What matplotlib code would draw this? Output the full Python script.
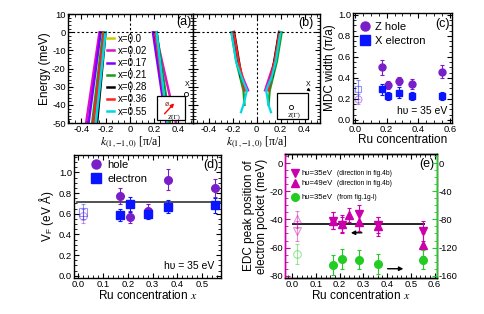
import numpy as np
import matplotlib
matplotlib.use("Agg")
import matplotlib.pyplot as plt
from matplotlib.patches import Rectangle
from matplotlib.ticker import MultipleLocator, FuncFormatter

plt.rcParams["font.family"] = ["Liberation Sans", "DejaVu Sans"]
plt.rcParams["mathtext.fontset"] = "stix"
plt.rcParams["axes.unicode_minus"] = False

# ------------------------------------------------------------
# DATA
# ------------------------------------------------------------

# (a) / (b) dispersions per doping
dop_labels = ["x=0.0", "x=0.02", "x=0.17", "x=0.21", "x=0.28", "x=0.36", "x=0.55"]
dop_colors = ["#cccc00", "#e010c8", "#7f00ff", "#1a9a1a", "#000000", "#ff2020", "#00d8e0"]

a_E = [0, -50]
a_kL = [[-0.21, -0.29], [-0.25, -0.36], [-0.24, -0.34], [-0.22, -0.31],
        [-0.20, -0.27], [-0.21, -0.30], [-0.20, -0.28]]
a_kR = [[0.20, 0.31], [0.21, 0.38], [0.19, 0.30], [0.22, 0.33],
        [0.22, 0.31], [0.21, 0.31], [0.22, 0.31]]

nan = np.nan
b_E = [0, -8, -16, -24, -32, -40, -44]
b_kL = [[nan] * 7,
        [-0.20, -0.18, -0.16, -0.12, -0.07, nan, nan],
        [-0.20, -0.18, -0.16, -0.13, -0.10, nan, nan],
        [-0.21, -0.19, -0.17, -0.14, -0.11, -0.10, nan],
        [-0.19, -0.17, -0.15, -0.13, nan, nan, nan],
        [-0.19, -0.17, -0.15, -0.12, -0.10, nan, nan],
        [-0.21, -0.19, -0.17, -0.13, -0.08, -0.11, -0.13]]
b_kR = [[nan] * 7,
        [0.19, 0.17, 0.15, 0.11, 0.07, nan, nan],
        [0.20, 0.18, 0.15, 0.12, 0.10, nan, nan],
        [0.21, 0.19, 0.17, 0.14, 0.11, 0.10, nan],
        [0.19, 0.17, 0.15, 0.13, nan, nan, nan],
        [0.19, 0.17, 0.15, 0.12, 0.10, nan, nan],
        [0.20, 0.18, 0.16, 0.13, 0.08, 0.10, 0.12]]

# (c) MDC width
ru_x = [0.02, 0.17, 0.21, 0.28, 0.36, 0.55]
c_hole = [0.20, 0.50, 0.33, 0.37, 0.34, 0.46]
c_hole_err = [0.05, 0.07, 0.04, 0.04, 0.05, 0.06]
c_elec = [0.29, 0.29, 0.23, 0.26, 0.23, 0.23]
c_elec_err = [0.09, 0.05, 0.04, 0.05, 0.04, 0.04]

# (d) Fermi velocity
d_hole = [0.58, 0.77, 0.57, 0.63, 0.93, 0.85]
d_hole_err = [0.07, 0.08, 0.06, 0.06, 0.10, 0.09]
d_elec = [0.62, 0.59, 0.69, 0.60, 0.67, 0.68]
d_elec_err = [0.07, 0.06, 0.07, 0.05, 0.06, 0.07]
d_mean = 0.71

# (e) EDC peak position
e_dn = [-48, -41, -44, -36, -44, -48]
e_dn_err = [7, 6, 6, 6, 6, 7]
e_up_x = [0.02, 0.17, 0.21, 0.24, 0.28, 0.36, 0.55]
e_up = [-40, -41, -43, -37, -42, -45, -58]
e_up_err = [6, 6, 6, 5, 6, 7, 8]
e_gr = [-129, -145, -136, -137, -143, -137]
e_gr_err = [14, 14, 14, 14, 14, 14]
e_mean = -43.5

PURPLE = "#7a1fc8"
BLUE = "#0a14ff"
MAG = "#cc00aa"
GREEN = "#22cc22"
TICK_FS = 6.8


def frame(ax, right=True):
    ax.tick_params(which="both", direction="in", top=True, right=right,
                   labelsize=TICK_FS, pad=1.5)
    ax.tick_params(which="major", length=3.5, width=0.8)
    ax.tick_params(which="minor", length=2, width=0.6)
    for s in ax.spines.values():
        s.set_linewidth(1.0)


def kfmt(v, pos):
    return "0" if abs(v) < 1e-9 else f"{v:.1f}"


def series(ax, x, y, err, color, marker, ms=5.5):
    # first point (x=0.02) open and pale, the rest filled
    ax.errorbar(x[1:], y[1:], yerr=err[1:], fmt=marker, color=color, ms=ms,
                ecolor=color, elinewidth=0.8, capsize=1.5, capthick=0.8,
                zorder=3)
    ax.errorbar(x[:1], y[:1], yerr=err[:1], fmt=marker, color=color, ms=ms,
                mfc="none", mew=0.8, alpha=0.45, elinewidth=0.8, capsize=1.5,
                capthick=0.8, zorder=3)


fig = plt.figure(figsize=(4.85, 3.14), dpi=100)
axa = fig.add_axes([0.140, 0.608, 0.258, 0.347])
axb = fig.add_axes([0.398, 0.608, 0.262, 0.347])
axc = fig.add_axes([0.728, 0.608, 0.204, 0.351])
axd = fig.add_axes([0.153, 0.115, 0.303, 0.392])
axe = fig.add_axes([0.588, 0.115, 0.313, 0.395])

klabel = r"$k_{(1,\mathrm{-}1,0)}$ [π/a]"

# ------------------------------------------------------------
# (a)
# ------------------------------------------------------------
for lab, col, kl, kr in zip(dop_labels, dop_colors, a_kL, a_kR):
    axa.plot(kl, a_E, color=col, lw=1.8, label=lab)
    axa.plot(kr, a_E, color=col, lw=1.8)
axa.axhline(0, color="k", ls=(0, (2, 2)), lw=0.8)
axa.axvline(0, color="k", ls=(0, (2, 2)), lw=0.8)
axa.set_xlim(-0.51, 0.52)
axa.set_ylim(-50, 10)
axa.xaxis.set_major_locator(MultipleLocator(0.2))
axa.xaxis.set_minor_locator(MultipleLocator(0.05))
axa.xaxis.set_major_formatter(FuncFormatter(kfmt))
axa.yaxis.set_major_locator(MultipleLocator(10))
axa.yaxis.set_minor_locator(MultipleLocator(2))
frame(axa)
axa.set_ylabel("Energy (meV)", fontsize=8.5, labelpad=1)
axa.set_xlabel(klabel, fontsize=8.5, family="Liberation Serif", labelpad=0)
axa.legend(loc="upper left", bbox_to_anchor=(0.31, 0.82), frameon=False,
           fontsize=7, handlelength=0.8, handletextpad=0.4, labelspacing=0.22,
           borderpad=0, borderaxespad=0)
axa.text(0.93, 0.93, "(a)", transform=axa.transAxes, ha="center", va="center",
         fontsize=9)
# Brillouin zone inset
axa.add_patch(Rectangle((0.22, -48.5), 0.23, 13.5, fc="white", ec="k",
                        lw=0.9, zorder=5))
axa.annotate("", xy=(0.38, -38), xytext=(0.27, -46),
             arrowprops=dict(arrowstyle="-|>", color="red", lw=1.0,
                             mutation_scale=5), zorder=6)
axa.text(0.29, -40.5, "ø", fontsize=5, color="#802020", zorder=6)
axa.text(0.36, -46.5, "Z(Γ)", fontsize=5, family="Liberation Serif",
         ha="center", va="center", zorder=6)
axa.plot([0.46], [-34], "o", ms=3, mfc="white", mec="k", mew=0.6,
         zorder=6, clip_on=False)
axa.text(0.47, -29, "X", fontsize=5, ha="center", va="center", zorder=6)

# ------------------------------------------------------------
# (b)
# ------------------------------------------------------------
for col, kl, kr in zip(dop_colors, b_kL, b_kR):
    lw = 2.2 if col == "#000000" else 1.6
    axb.plot(kl, b_E, color=col, lw=lw)
    axb.plot(kr, b_E, color=col, lw=lw)
axb.axhline(0, color="k", ls=(0, (2, 2)), lw=0.8)
axb.axvline(0, color="k", ls=(0, (2, 2)), lw=0.8)
axb.set_xlim(-0.53, 0.53)
axb.set_ylim(-50, 10)
axb.xaxis.set_major_locator(MultipleLocator(0.2))
axb.xaxis.set_minor_locator(MultipleLocator(0.05))
axb.xaxis.set_major_formatter(FuncFormatter(kfmt))
axb.yaxis.set_major_locator(MultipleLocator(10))
axb.yaxis.set_minor_locator(MultipleLocator(2))
frame(axb)
axb.set_yticklabels([])
axb.set_xlabel(klabel, fontsize=8.5, family="Liberation Serif", labelpad=0)
axb.text(0.89, 0.92, "(b)", transform=axb.transAxes, ha="center", va="center",
         fontsize=9)
axb.add_patch(Rectangle((0.17, -47.5), 0.26, 14, fc="white", ec="k",
                        lw=0.9, zorder=5))
axb.plot([0.29], [-41], "o", ms=3, mfc="white", mec="k", mew=0.6, zorder=6)
axb.text(0.31, -45.5, "Z(Γ)", fontsize=5, family="Liberation Serif",
         ha="center", va="center", zorder=6)
axb.text(0.43, -28.5, "X", fontsize=5, ha="center", va="center", zorder=6)
axb.annotate("", xy=(0.47, -33.5), xytext=(0.41, -30.5),
             arrowprops=dict(arrowstyle="-|>", color="k", lw=0.8,
                             mutation_scale=4), zorder=6)

# ------------------------------------------------------------
# (c)
# ------------------------------------------------------------
series(axc, ru_x, c_hole, c_hole_err, PURPLE, "o", ms=5)
series(axc, ru_x, c_elec, c_elec_err, BLUE, "s", ms=5)
axc.set_xlim(-0.013, 0.614)
axc.set_ylim(-0.03, 1.02)
axc.xaxis.set_major_locator(MultipleLocator(0.2))
axc.xaxis.set_minor_locator(MultipleLocator(0.05))
axc.yaxis.set_major_locator(MultipleLocator(0.2))
axc.yaxis.set_minor_locator(MultipleLocator(0.05))
frame(axc)
axc.set_ylabel("MDC width (π/a)", fontsize=8.5, labelpad=1)
axc.set_xlabel("Ru concentration", fontsize=8.5, labelpad=0)
axc.plot([], [], "o", color=PURPLE, ms=6.5, label="Z hole")
axc.plot([], [], "s", color=BLUE, ms=6.5, label="X electron")
h, l = axc.get_legend_handles_labels()
axc.legend(h[-2:], l[-2:], loc="upper left", bbox_to_anchor=(0.06, 0.92),
           frameon=False, fontsize=8, handlelength=1.0, handletextpad=0.4,
           labelspacing=0.35, borderpad=0, borderaxespad=0)
axc.text(0.90, 0.90, "(c)", transform=axc.transAxes, ha="center", va="center",
         fontsize=9)
axc.text(0.95, 0.06, "hυ = 35 eV", transform=axc.transAxes, ha="right",
         va="bottom", fontsize=7.5)

# ------------------------------------------------------------
# (d)
# ------------------------------------------------------------
series(axd, ru_x, d_hole, d_hole_err, PURPLE, "o")
series(axd, ru_x, d_elec, d_elec_err, BLUE, "s")
axd.axhline(d_mean, xmin=0.02, xmax=0.99, color="#333333", lw=1.2, zorder=2)
axd.set_xlim(-0.016, 0.576)
axd.set_ylim(-0.02, 1.17)
axd.xaxis.set_major_locator(MultipleLocator(0.1))
axd.xaxis.set_minor_locator(MultipleLocator(0.02))
axd.yaxis.set_major_locator(MultipleLocator(0.2))
axd.yaxis.set_minor_locator(MultipleLocator(0.05))
frame(axd)
axd.set_ylabel("V$_\\mathregular{F}$ (eV Å)", fontsize=8.5, labelpad=2)
axd.set_xlabel("Ru concentration $x$", fontsize=8.5, labelpad=0)
axd.plot([], [], "o", color=PURPLE, ms=6.5, label="hole")
axd.plot([], [], "s", color=BLUE, ms=6.5, label="electron")
h, l = axd.get_legend_handles_labels()
axd.legend(h[-2:], l[-2:], loc="upper left", bbox_to_anchor=(0.11, 0.96),
           frameon=False, fontsize=8, handlelength=1.0, handletextpad=0.5,
           labelspacing=0.35, borderpad=0, borderaxespad=0)
axd.text(0.93, 0.92, "(d)", transform=axd.transAxes, ha="center", va="center",
         fontsize=9)
axd.text(0.95, 0.06, "hυ = 35 eV", transform=axd.transAxes, ha="right",
         va="bottom", fontsize=7.5)

# ------------------------------------------------------------
# (e)
# ------------------------------------------------------------
axe2 = axe.twinx()
series(axe, ru_x, e_dn, e_dn_err, MAG, "v")
series(axe, e_up_x, e_up, e_up_err, MAG, "^")
series(axe2, ru_x, e_gr, e_gr_err, GREEN, "o")
axe.hlines(e_mean, 0.0, 0.56, color="k", lw=1.2, zorder=2)
axe.annotate("", xy=(0.235, -49.5), xytext=(0.305, -49.5),
             arrowprops=dict(arrowstyle="-|>", color="k", lw=1.0,
                             mutation_scale=6))
axe.annotate("", xy=(0.48, -75), xytext=(0.39, -75),
             arrowprops=dict(arrowstyle="-|>", color="k", lw=1.0,
                             mutation_scale=6))
axe.set_xlim(-0.03, 0.61)
axe.set_ylim(-81.5, 6.5)
axe2.set_ylim(-163, 13)
axe.xaxis.set_major_locator(MultipleLocator(0.1))
axe.xaxis.set_minor_locator(MultipleLocator(0.02))
axe.yaxis.set_major_locator(MultipleLocator(20))
axe.yaxis.set_minor_locator(MultipleLocator(5))
axe2.yaxis.set_major_locator(MultipleLocator(40))
axe2.yaxis.set_minor_locator(MultipleLocator(10))
frame(axe, right=False)
axe2.tick_params(which="both", direction="in", labelsize=TICK_FS, pad=1.5,
                 colors=GREEN, labelcolor="k")
axe2.tick_params(which="major", length=3.5, width=0.8)
axe2.tick_params(which="minor", length=2, width=0.6)
axe.tick_params(axis="y", which="both", colors=MAG, labelcolor="k")
axe2.spines["right"].set_color(GREEN)
axe2.spines["left"].set_color(MAG)
axe.spines["left"].set_color(MAG)
for s in axe2.spines.values():
    s.set_linewidth(1.0)
axe.set_ylabel("EDC peak position of\nelectron pocket (meV)", fontsize=8.5,
               labelpad=1, linespacing=1.1)
axe.set_xlabel("Ru concentration $x$", fontsize=8.5, labelpad=0)
axe.text(0.93, 0.92, "(e)", transform=axe.transAxes, ha="center", va="center",
         fontsize=9)
# legend drawn by hand (mixed font sizes)
leg_rows = [("v", MAG, 0.845, "hυ=35eV", "(direction in fig.4b)"),
            ("^", MAG, 0.765, "hυ=49eV", "(direction in fig.4b)"),
            ("o", GREEN, 0.65, "hυ=35eV", "(from fig.1g-l)")]
for mk, col, yy, t1, t2 in leg_rows:
    axe.plot([0.066], [yy], mk, color=col, ms=5.5, transform=axe.transAxes,
             clip_on=False)
    axe.text(0.11, yy, t1, transform=axe.transAxes, va="center", fontsize=5.6)
    axe.text(0.34, yy, t2, transform=axe.transAxes, va="center", fontsize=4.8)

fig.savefig("out.png", dpi=100)
